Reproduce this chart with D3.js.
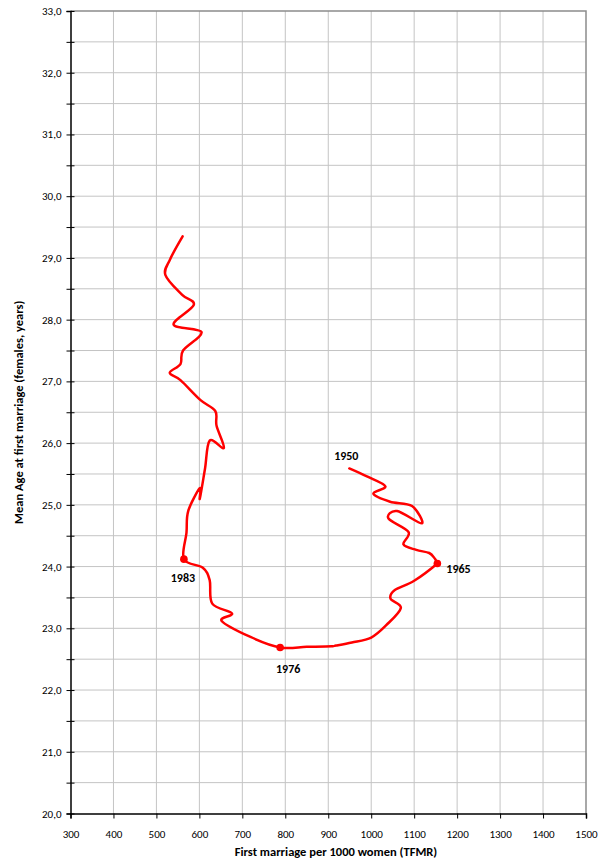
<!DOCTYPE html>
<html>
<head>
<meta charset="utf-8">
<script src="https://cdn.jsdelivr.net/npm/d3@7"></script>
<style>
  html, body { margin: 0; padding: 0; background: #fff; }
  svg text { font-family: Carlito, Lato, "Open Sans", sans-serif; fill: #000; }
</style>
</head>
<body>
<svg id="chart" width="602" height="864"></svg>
<script>
// Annual path: total first marriage rate (per 1000 women) vs mean age at first marriage
const years = [
  1950, 1951, 1952, 1953, 1954, 1955, 1956, 1957, 1958, 1959,
  1960, 1961, 1962, 1963, 1964, 1965, 1966, 1967, 1968, 1969,
  1970, 1971, 1972, 1973, 1974, 1975, 1976, 1977, 1978, 1979,
  1980, 1981, 1982, 1983, 1984, 1985, 1986, 1987, 1988, 1989,
  1990, 1991, 1992, 1993, 1994, 1995, 1996, 1997, 1998, 1999,
  2000, 2001, 2002, 2003, 2004
];
const tfmr = [
   949,  990, 1033, 1005, 1044, 1095, 1118, 1060, 1040, 1087,
  1075, 1105, 1135, 1148, 1152, 1154, 1100, 1055, 1045, 1069,
  1035, 1000,  955,  918,  908,  850,  788,  719,  652,  676,
   630,  624,  608,  564,  570,  574,  601,  601,  613,  624,
   657,  640,  637,  602,  556,  531,  556,  562,  605,  540,
   587,  560,  521,  532,  561
];
const meanAge = [
  25.59, 25.46, 25.30, 25.18, 25.05, 24.98, 24.70, 24.90, 24.78, 24.56,
  24.36, 24.27, 24.22, 24.13, 24.08, 24.05, 23.77, 23.62, 23.48, 23.33,
  23.05, 22.85, 22.77, 22.72, 22.71, 22.70, 22.69, 22.86, 23.12, 23.24,
  23.40, 23.78, 23.98, 24.12, 24.55, 24.90, 25.27, 25.10, 25.58, 26.04,
  25.92, 26.28, 26.52, 26.70, 27.02, 27.14, 27.28, 27.50, 27.80, 27.92,
  28.24, 28.40, 28.72, 28.98, 29.35
];
const markedYears = [1965, 1976, 1983];
const labelledYears = [1950, 1965, 1976, 1983];

const xTicks = [300, 400, 500, 600, 700, 800, 900, 1000, 1100, 1200, 1300, 1400, 1500];
const yTicks = [20, 21, 22, 23, 24, 25, 26, 27, 28, 29, 30, 31, 32, 33];
const yMinorTicks = [20.5, 21.5, 22.5, 23.5, 24.5, 25.5, 26.5, 27.5, 28.5, 29.5, 30.5, 31.5, 32.5];

const xTitle = "First marriage per 1000 women (TFMR)";
const yTitle = "Mean Age at first marriage (females, years)";

const points = years.map((yr, i) => ({ year: yr, x: tfmr[i], y: meanAge[i] }));

const svg = d3.select("#chart");
const plot = { left: 70.5, right: 586, top: 11, bottom: 813.5 };

const x = d3.scaleLinear().domain([300, 1500]).range([plot.left, plot.right]);
const y = d3.scaleLinear().domain([20, 33]).range([plot.bottom, plot.top]);

// Gridlines
const grid = svg.append("g");
grid.selectAll("line.v").data(xTicks.slice(1, -1)).join("line")
  .attr("x1", d => x(d)).attr("x2", d => x(d))
  .attr("y1", plot.top).attr("y2", plot.bottom)
  .attr("stroke", "#c4c4c4").attr("stroke-width", 1);
grid.selectAll("line.h").data(yTicks.concat(yMinorTicks).filter(d => d > 20 && d < 33)).join("line")
  .attr("x1", plot.left).attr("x2", plot.right)
  .attr("y1", d => y(d)).attr("y2", d => y(d))
  .attr("stroke", "#c4c4c4").attr("stroke-width", 1);

// Plot-area border (top and right)
svg.append("path")
  .attr("d", `M${plot.left},${plot.top}H${plot.right}V${plot.bottom}`)
  .attr("fill", "none").attr("stroke", "#8c8c8c").attr("stroke-width", 1.5);

// X axis
const xAxis = d3.axisBottom(x).tickValues(xTicks).tickSize(5).tickPadding(12)
  .tickFormat(d3.format("d"));
const gx = svg.append("g").attr("transform", `translate(0,${plot.bottom})`).call(xAxis);
gx.select(".domain").attr("stroke", "#000").attr("stroke-width", 1.5);
gx.selectAll(".tick line").attr("stroke", "#000").attr("stroke-width", 1);
gx.selectAll(".tick text").attr("font-size", 11).attr("font-family", "Carlito, Lato, 'Open Sans', sans-serif");

// Y axis: ticks cross the axis line
const yFmt = d => d3.format(".1f")(d).replace(".", ",");
const yAxis = d3.axisLeft(y).tickValues(yTicks.concat(yMinorTicks)).tickSize(4).tickPadding(6)
  .tickFormat(d => Number.isInteger(d) ? yFmt(d) : "");
const gy = svg.append("g").attr("transform", `translate(${plot.left},0)`).call(yAxis);
gy.select(".domain").attr("stroke", "#000").attr("stroke-width", 1.5);
gy.selectAll(".tick line").attr("x2", 4).attr("x1", -4).attr("stroke", "#000").attr("stroke-width", 1);
gy.selectAll(".tick text").attr("x", -9).attr("font-size", 11).attr("font-family", "Carlito, Lato, 'Open Sans', sans-serif");

// Axis titles
svg.append("text")
  .attr("x", 336).attr("y", 856)
  .attr("text-anchor", "middle")
  .attr("font-size", 12.5).attr("font-weight", "bold")
  .text(xTitle);
svg.append("text")
  .attr("transform", `translate(23,${(plot.top + plot.bottom) / 2}) rotate(-90)`)
  .attr("text-anchor", "middle")
  .attr("font-size", 12.5).attr("font-weight", "bold")
  .text(yTitle);

// Smoothed path through the annual points
const line = d3.line()
  .x(d => x(d.x)).y(d => y(d.y))
  .curve(d3.curveCatmullRom.alpha(0));
svg.append("path")
  .datum(points)
  .attr("d", line)
  .attr("fill", "none")
  .attr("stroke", "#ff0000")
  .attr("stroke-width", 2.5)
  .attr("stroke-linejoin", "round")
  .attr("stroke-linecap", "round");

// Markers for selected years
svg.selectAll("circle.mark")
  .data(points.filter(p => markedYears.includes(p.year)))
  .join("circle")
  .attr("cx", d => x(d.x)).attr("cy", d => y(d.y))
  .attr("r", 3.8).attr("fill", "#ff0000");

// Year labels
const labelOffsets = {
  1950: { dx: -3, dy: -8, anchor: "middle" },
  1965: { dx: 9, dy: 10, anchor: "start" },
  1976: { dx: 8, dy: 26, anchor: "middle" },
  1983: { dx: -1, dy: 23, anchor: "middle" }
};
svg.selectAll("text.year")
  .data(points.filter(p => labelledYears.includes(p.year)))
  .join("text")
  .attr("x", d => x(d.x) + labelOffsets[d.year].dx)
  .attr("y", d => y(d.y) + labelOffsets[d.year].dy)
  .attr("text-anchor", d => labelOffsets[d.year].anchor)
  .attr("font-size", 12).attr("font-weight", "bold")
  .text(d => d.year);
</script>
</body>
</html>
